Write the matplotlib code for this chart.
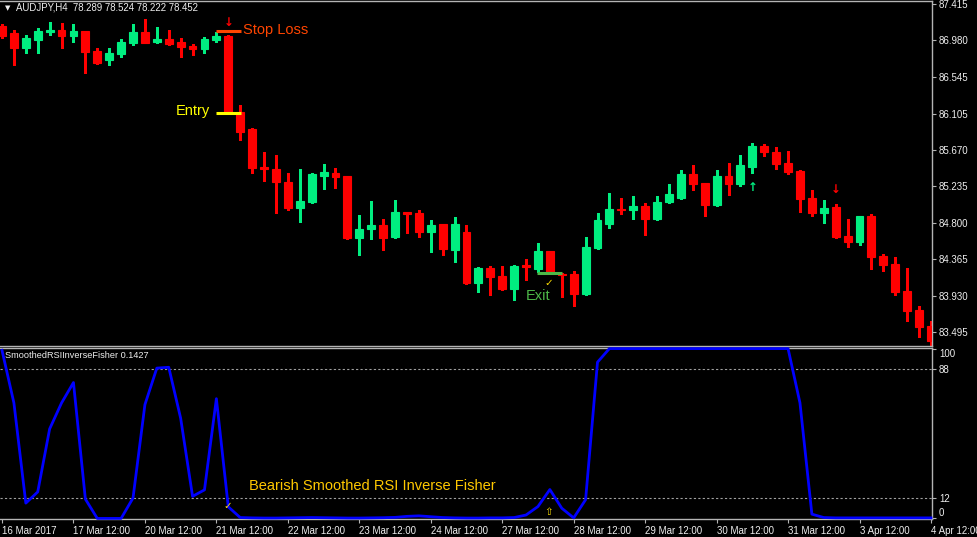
import matplotlib
matplotlib.use("Agg")
import matplotlib.pyplot as plt
import numpy as np

plt.rcParams['font.family'] = ['Liberation Sans', 'DejaVu Sans']

# ---------------- data ----------------
opens = [87.152, 87.068, 86.889, 86.985, 87.080, 87.104, 87.033, 87.092, 86.853, 86.746,
         86.817, 86.949, 87.080, 86.961, 86.997, 86.961, 86.913, 86.877, 86.985, 87.033,
         86.124, 85.921, 85.467, 85.443, 85.288, 84.977, 85.049, 85.360, 85.395, 85.360,
         84.619, 84.726, 84.774, 84.631, 84.929, 84.917, 84.690, 84.786, 84.475, 84.690,
         84.081, 84.260, 84.164, 84.009, 84.296, 84.248, 84.463, 84.188, 84.188, 83.949,
         84.499, 84.786, 84.965, 84.953, 85.001, 84.846, 85.049, 85.097, 85.383, 85.276,
         85.013, 85.360, 85.264, 85.467, 85.718, 85.646, 85.515, 85.419, 85.097, 84.917,
         84.989, 84.643, 84.571, 84.882, 84.404, 84.308, 83.985, 83.758, 83.567]
highs = [87.176, 87.104, 87.045, 87.128, 87.200, 87.188, 87.176, 87.092, 86.889, 86.889,
         86.997, 87.176, 87.236, 87.140, 87.104, 87.009, 86.937, 87.021, 87.080, 87.045,
         86.208, 85.933, 85.646, 85.611, 85.395, 85.443, 85.395, 85.503, 85.455, 85.360,
         84.893, 85.061, 84.846, 85.073, 84.929, 84.953, 84.834, 84.786, 84.870, 84.774,
         84.272, 84.284, 84.284, 84.296, 84.368, 84.559, 84.463, 84.200, 84.224, 84.631,
         84.917, 85.156, 85.097, 85.121, 85.037, 85.121, 85.264, 85.431, 85.491, 85.276,
         85.431, 85.515, 85.611, 85.754, 85.742, 85.706, 85.658, 85.431, 85.192, 85.073,
         85.025, 84.846, 84.882, 84.905, 84.427, 84.392, 84.260, 83.806, 83.627]
lows = [87.009, 86.686, 86.829, 86.829, 87.045, 86.889, 86.961, 86.590, 86.698, 86.686,
        86.782, 86.925, 86.949, 86.949, 86.925, 86.782, 86.806, 86.829, 86.961, 86.112,
        85.790, 85.395, 85.300, 84.917, 84.953, 84.810, 85.037, 85.204, 85.216, 84.607,
        84.416, 84.607, 84.475, 84.619, 84.678, 84.631, 84.451, 84.416, 84.332, 84.069,
        83.973, 83.937, 83.997, 83.878, 84.117, 84.212, 84.188, 83.913, 83.806, 83.937,
        84.487, 84.738, 84.905, 84.846, 84.655, 84.834, 85.037, 85.085, 85.192, 84.882,
        85.001, 85.132, 85.240, 85.395, 85.599, 85.443, 85.383, 84.929, 84.882, 84.798,
        84.619, 84.511, 84.535, 84.248, 84.224, 83.937, 83.627, 83.435, 83.328]
closes = [87.033, 86.889, 87.009, 87.092, 87.104, 87.033, 87.092, 86.841, 86.710, 86.829,
          86.961, 87.080, 86.949, 86.997, 86.937, 86.901, 86.877, 86.997, 87.033, 86.124,
          85.885, 85.455, 85.443, 85.288, 84.977, 85.061, 85.383, 85.407, 85.348, 84.619,
          84.726, 84.774, 84.619, 84.929, 84.905, 84.690, 84.774, 84.487, 84.786, 84.081,
          84.260, 84.153, 84.009, 84.284, 84.272, 84.463, 84.200, 84.176, 83.949, 84.511,
          84.834, 84.965, 84.953, 85.001, 84.846, 85.049, 85.144, 85.383, 85.264, 85.013,
          85.360, 85.264, 85.491, 85.718, 85.646, 85.503, 85.407, 85.085, 84.917, 84.977,
          84.631, 84.571, 84.882, 84.392, 84.296, 83.973, 83.746, 83.555, 83.388]

indicator = [99, 68, 9, 15.6, 52.7, 68, 80, 11.4, 0, 0,
             0, 12, 67, 88.5, 89, 59, 13, 16.8, 70.5, 6.8,
             0.5, 0.3, 0.2, 0.2, 0.3, 0.4, 0.5, 0.4, 0.3, 0.2,
             0.2, 0.3, 0.4, 0.6, 1.2, 1.5, 1.0, 0.5, 0.3, 0.2,
             0.2, 0.3, 0.3, 0.5, 2.0, 7, 17, 6, 0.3, 11,
             92, 100, 100, 100, 100, 100, 100, 100, 100, 100,
             100, 100, 100, 100, 100, 100, 100, 68, 2.5, 0.5,
             0.3, 0.3, 0.3, 0.3, 0.3, 0.3, 0.3, 0.3, 0.3]

price_ticks = [87.415, 86.980, 86.545, 86.105, 85.670, 85.235, 84.800, 84.365, 83.930, 83.495]
level_ticks = [100, 88, 12, 0]
time_labels = ["16 Mar 2017", "17 Mar 12:00", "20 Mar 12:00", "21 Mar 12:00", "22 Mar 12:00",
               "23 Mar 12:00", "24 Mar 12:00", "27 Mar 12:00", "28 Mar 12:00", "29 Mar 12:00",
               "30 Mar 12:00", "31 Mar 12:00", "3 Apr 12:00", "4 Apr 12:00"]
time_label_bars = [0, 6, 12, 18, 24, 30, 36, 42, 48, 54, 60, 66, 72, 78]

stop_loss = 87.092
entry = 86.112
exit_level = 84.200

# ---------------- figure ----------------
W, H = 977, 537
fig = plt.figure(figsize=(W / 100, H / 100), dpi=100, facecolor='black')
ax = fig.add_axes([0, 1 - 346 / H, 932 / W, 345 / H])
ax2 = fig.add_axes([0, 1 - 519 / H, 932 / W, 171 / H])

GREEN = '#00EE80'
RED = '#FF0000'
GRID = '#B4B4B4'
TXT = '#EEEEEE'

n = len(opens)
x = np.arange(n)
cols = [GREEN if c >= o else RED for o, c in zip(opens, closes)]
ax.vlines(x, lows, highs, colors=cols, linewidth=1.0, antialiased=False, zorder=2)
bottoms = np.minimum(opens, closes)
heights = np.abs(np.array(closes) - np.array(opens))
ax.bar(x, heights, bottom=bottoms, width=0.66, color=cols, edgecolor=cols,
       linewidth=0.8, zorder=3)

xlim = (-2 / 11.91, 930 / 11.91)
for a in (ax, ax2):
    a.set_facecolor('black')
    a.set_xlim(*xlim)
    a.spines['left'].set_visible(False)
    for s in ('top', 'right', 'bottom'):
        a.spines[s].set_color(GRID)
        a.spines[s].set_linewidth(1.0)

ax.set_ylim(83.328, 87.451)
ax.yaxis.tick_right()
ax.set_yticks(price_ticks)
ax.set_yticklabels([f"{p:.3f}" for p in price_ticks])
ax.tick_params(axis='y', colors=GRID, labelcolor=TXT, labelsize=7, length=3, width=0.8, pad=2)
ax.set_xticks([])

# trade annotations
ax.hlines(stop_loss, 17.97, 20.07, color='#FF4500', linewidth=2.2, zorder=4)
ax.text(20.25, stop_loss + 0.012, "Stop Loss", color='#FF4500', fontsize=10.5, va='center', ha='left')
ax.hlines(entry, 17.97, 20.07, color='#FFFF00', linewidth=2.2, zorder=4)
ax.text(17.5, entry + 0.03, "Entry", color='#FFFF00', fontsize=10.5, va='center', ha='right')
ax.hlines(exit_level, 44.9, 47.0, color='#4DB848', linewidth=2.2, zorder=4)
ax.text(45.05, 83.926, "Exit", color='#4DB848', fontsize=10.5, va='center', ha='center')
ax.text(45.9, 84.085, "✓", color='#FFE000', fontsize=7.5, va='center', ha='center',
        family=['DejaVu Sans'])
ax.text(19, 87.200, "↓", color=RED, fontsize=8.5, va='center', ha='center',
        family=['DejaVu Sans'], fontweight='bold')
ax.text(63, 85.228, "↑", color=GREEN, fontsize=8.5, va='center', ha='center',
        family=['DejaVu Sans'], fontweight='bold')
ax.text(70, 85.204, "↓", color=RED, fontsize=8.5, va='center', ha='center',
        family=['DejaVu Sans'], fontweight='bold')

# header
ax.text(5 / 932, 1 - 7 / 345, "▼", transform=ax.transAxes, color=TXT, fontsize=5,
        va='center', ha='left', family=['DejaVu Sans'])
ax.text(16 / 932, 1 - 7 / 345, "AUDJPY,H4  78.289 78.524 78.222 78.452", transform=ax.transAxes,
        color=TXT, fontsize=6.9, va='center', ha='left')

# ---------------- indicator ----------------
ax2.set_ylim(-0.35, 100.35)
ax2.plot(x, indicator, color='#0000FF', linewidth=2.0, zorder=3, clip_on=False)
for lv in (88, 12):
    ax2.axhline(lv, color='#A0A0A0', linewidth=0.8, linestyle=(0, (2, 2)), zorder=1)
ax2.yaxis.tick_right()
ax2.set_yticks(level_ticks)
ax2.set_yticklabels([str(v) for v in level_ticks])
ax2.tick_params(axis='y', colors=GRID, labelcolor=TXT, labelsize=7, length=3, width=0.8, pad=2)
ylabs = ax2.get_yticklabels()
ylabs[0].set_va('top')
ylabs[-1].set_va('bottom')

ax2.set_xticks(time_label_bars)
ax2.set_xticklabels(time_labels)
for lab in ax2.get_xticklabels():
    lab.set_ha('left')
ax2.tick_params(axis='x', colors=GRID, labelcolor=TXT, labelsize=7, length=3, width=0.8, pad=2)

ax2.text(5 / 932, (519 - 355) / 171, "SmoothedRSIInverseFisher 0.1427", transform=ax2.transAxes,
         color=TXT, fontsize=6.6, va='center', ha='left')
ax2.text(20.74, 19.1, "Bearish Smoothed RSI Inverse Fisher", color='#FFC800', fontsize=10.5,
         va='center', ha='left')
ax2.text(19, 7.3, "✓", color='#FFE000', fontsize=7.5, va='center', ha='center', family=['DejaVu Sans'])
ax2.text(45.9, 3.8, "⇧", color='#FFE000', fontsize=7.5, va='center', ha='center', family=['DejaVu Sans'])

fig.savefig("out.png", dpi=100, facecolor='black')
